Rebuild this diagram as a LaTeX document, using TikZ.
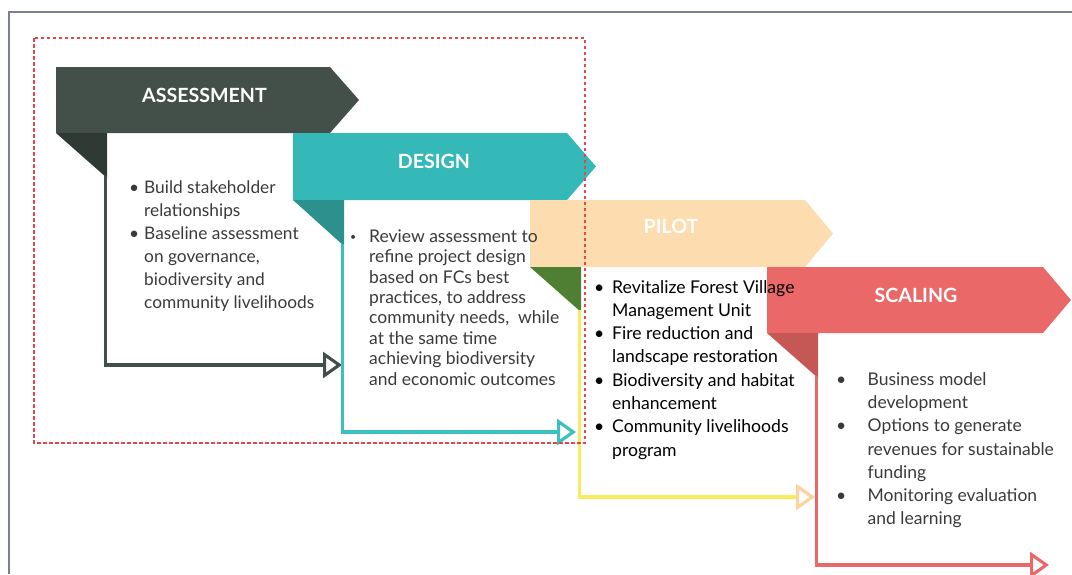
\documentclass[tikz,border=0pt]{standalone}
\usepackage{fontspec}
\setmainfont{Lato}
\usetikzlibrary{arrows.meta}
\definecolor{framec}{HTML}{7B7F96}
\definecolor{dashc}{HTML}{E8444B}
\definecolor{asmt}{HTML}{435049}
\definecolor{asmtD}{HTML}{2F3A35}
\definecolor{dsgn}{HTML}{34B9B8}
\definecolor{dsgnD}{HTML}{2C918D}
\definecolor{dsgnL}{HTML}{3BBFBF}
\definecolor{pilot}{HTML}{FDDCB0}
\definecolor{pilotD}{HTML}{4F7F32}
\definecolor{pilotL}{HTML}{F7EC5E}
\definecolor{scal}{HTML}{EA6868}
\definecolor{scalD}{HTML}{C55855}
\definecolor{txt}{HTML}{3A3A3A}
\newcommand\smallbul{\raisebox{1.5pt}{\scalebox{0.6}{\textbullet}}}
\tikzset{
  headtxt/.style={text=white, font=\fontsize{19.6}{22}\selectfont\bfseries, anchor=base, inner sep=0pt},
  bodytxt/.style={anchor=base west, inner sep=0pt, text=txt},
  flow/.style={line width=3.1pt, -{Triangle[open, length=19pt, width=26pt]}},
}
\begin{document}
\begin{tikzpicture}[x=1pt,y=-1pt]
\useasboundingbox (0,0) rectangle (1072,574);
% outer frame
\draw[framec, line width=1.5pt] (1072,12) -- (9,12) -- (9,574);
% banners
\fill[asmt] (56,67) -- (330,67) -- (359,100) -- (330,133) -- (56,133) -- cycle;
\fill[asmtD] (56,133) -- (107,133) -- (107,178) -- cycle;
\fill[dsgn] (293,133) -- (567,133) -- (596,166.5) -- (567,200) -- (293,200) -- cycle;
\fill[dsgnD] (293,200) -- (344,200) -- (344,246) -- cycle;
\fill[pilot] (530,200) -- (805,200) -- (833,233.5) -- (805,267) -- (530,267) -- cycle;
\fill[pilotD] (530,267) -- (581,267) -- (581,312) -- cycle;
\fill[scal] (767,267) -- (1043,267) -- (1071,300) -- (1043,333) -- (767,333) -- cycle;
\fill[scalD] (767,333) -- (818,333) -- (818,378) -- cycle;
% connector ends
\coordinate (aS) at (105.5,176);
\coordinate (aE) at (342,365);
\coordinate (dS) at (342.5,244);
\coordinate (dE) at (576,432);
\coordinate (pS) at (579.5,310);
\coordinate (pE) at (815,497);
\coordinate (sS) at (816.5,376);
\coordinate (sE) at (1049,565);
\draw[flow, asmt] (aS) |- (aE);
\draw[flow, dsgnL] (dS) |- (dE);
\draw[line width=3.1pt, pilotL, -{Triangle[open, length=19pt, width=26pt, color=pilot!90!orange]}] (pS) |- (pE);
\draw[flow, scal] (sS) |- (sE);
% headings
\node[headtxt] (hA) at (204.5,102) {ASSESSMENT};
\node[headtxt] (hD) at (434,168) {DESIGN};
\node[headtxt] (hP) at (671,233) {PILOT};
\node[headtxt] (hS) at (916,302) {SCALING};
% body texts
\node[bodytxt, font=\fontsize{17.3}{23}\selectfont] (tA) at (129,193) {%
\begin{tabular}[t]{@{}p{15pt}@{}l@{}}
\textbullet & Build stakeholder\\
 & relationships\\
\textbullet & Baseline assessment\\
 & on governance,\\
 & biodiversity and\\
 & community livelihoods
\end{tabular}};
\node[bodytxt, font=\fontsize{17.5}{20.4}\selectfont] (tD) at (350,242.3) {%
\begin{tabular}[t]{@{}p{19pt}@{}l@{}}
\smallbul & Review assessment to\\
 & refine project design\\
 & based on FCs best\\
 & practices, to address\\
 & community needs,\ \ while\\
 & at the same time\\
 & achieving biodiversity\\
 & and economic outcomes
\end{tabular}};
\node[bodytxt, text=black, font=\fontsize{17.6}{23.3}\selectfont] (tP) at (594,293) {%
\begin{tabular}[t]{@{}p{18pt}@{}l@{}}
\textbullet & Revitalize Forest Village\\
 & Management Unit\\
\textbullet & Fire reduction and\\
 & landscape restoration\\
\textbullet & Biodiversity and habitat\\
 & enhancement\\
\textbullet & Community livelihoods\\
 & program
\end{tabular}};
\node[bodytxt, font=\fontsize{17.5}{23.1}\selectfont] (tS) at (836,385.7) {%
\begin{tabular}[t]{@{}p{31.5pt}@{}l@{}}
\textbullet & Business model\\
 & development\\
\textbullet & Options to generate\\
 & revenues for sustainable\\
 & funding\\
\textbullet & Monitoring evaluation\\
 & and learning
\end{tabular}};
% dashed group box
\draw[dashc, line width=1.2pt, dash pattern=on 3.5pt off 2.5pt] (34,38) rectangle (585,443);
\end{tikzpicture}
\end{document}
